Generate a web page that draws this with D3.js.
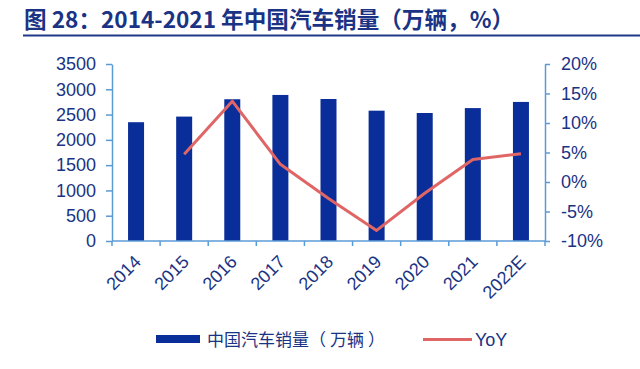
<!DOCTYPE html>
<html>
<head>
<meta charset="utf-8">
<script src="https://cdn.jsdelivr.net/npm/d3@7"></script>
<style>
  body { margin: 0; background: #fff; }
  svg { display: block; }
</style>
</head>
<body>
<div id="chart"></div>
<script>
// data
const years = ["2014", "2015", "2016", "2017", "2018", "2019", "2020", "2021", "2022E"];
const sales = [2349, 2460, 2803, 2888, 2808, 2577, 2531, 2628, 2750];   // 万辆
const yoy = [null, 4.7, 13.7, 3.0, -2.8, -8.2, -1.9, 3.8, 4.8];          // %
const leftTicks = [0, 500, 1000, 1500, 2000, 2500, 3000, 3500];
const rightTicks = [-10, -5, 0, 5, 10, 15, 20];

const W = 640, H = 369;
const navy = "#1a3384";
const axisColor = "#5b9bd5";
const barColor = "#0a2e99";
const lineColor = "#e06666";
const numFont = "'Liberation Sans', Arial, sans-serif";
const cjkFont = "'Noto Sans CJK SC', 'Noto Sans', sans-serif";

const svg = d3.select("#chart")
    .append("svg")
    .attr("width", W)
    .attr("height", H);

// title + rule
svg.append("text")
    .attr("x", 24)
    .attr("y", 28)
    .attr("fill", navy)
    .attr("font-family", cjkFont)
    .attr("font-weight", "bold")
    .attr("font-size", 22.6)
    .text("图 28：2014-2021 年中国汽车销量（万辆，%）");

svg.append("line")
    .attr("x1", 23).attr("x2", 640)
    .attr("y1", 35.5).attr("y2", 35.5)
    .attr("stroke", "#1f3a8a")
    .attr("stroke-width", 2);

const pL = 112, pR = 545, pT = 64, pB = 241;

const x = d3.scaleBand().domain(years).range([pL, pR]).padding(0);
const yL = d3.scaleLinear().domain([0, 3500]).range([pB, pT]);
const yR = d3.scaleLinear().domain([-10, 20]).range([pB, pT]);

// bars
svg.append("g")
    .selectAll("rect")
    .data(years.map((y, i) => ({year: y, v: sales[i]})))
    .join("rect")
    .attr("x", d => x(d.year) + x.bandwidth() / 2 - 8)
    .attr("width", 16)
    .attr("y", d => yL(d.v))
    .attr("height", d => yL(0) - yL(d.v))
    .attr("fill", barColor);

// YoY line
const line = d3.line()
    .defined(d => d.v !== null)
    .x(d => x(d.year) + x.bandwidth() / 2)
    .y(d => yR(d.v));

svg.append("path")
    .datum(years.map((y, i) => ({year: y, v: yoy[i]})))
    .attr("d", line)
    .attr("fill", "none")
    .attr("stroke", lineColor)
    .attr("stroke-width", 3)
    .attr("stroke-linejoin", "round");

function styleAxis(g) {
    g.selectAll(".domain").attr("stroke", axisColor).attr("stroke-width", 1.5);
    g.selectAll(".tick line").attr("stroke", axisColor).attr("stroke-width", 1.5);
    g.selectAll("text")
        .attr("fill", navy)
        .attr("font-family", numFont)
        .attr("font-size", 18);
}

// left axis
svg.append("g")
    .attr("transform", `translate(${pL},0)`)
    .call(d3.axisLeft(yL).tickValues(leftTicks).tickSize(6).tickSizeOuter(0).tickPadding(10)
        .tickFormat(d3.format("d")))
    .call(styleAxis);

// right axis
svg.append("g")
    .attr("transform", `translate(${pR},0)`)
    .call(d3.axisRight(yR).tickValues(rightTicks).tickSize(5).tickSizeOuter(0).tickPadding(11)
        .tickFormat(d => d + "%"))
    .call(styleAxis);

// bottom axis: ticks at category boundaries
const xAxis = svg.append("g")
    .attr("transform", `translate(0,${pB})`);
xAxis.append("line")
    .attr("x1", pL).attr("x2", pR)
    .attr("stroke", axisColor).attr("stroke-width", 1.5);
xAxis.selectAll("line.tk")
    .data(years.concat(["end"]))
    .join("line")
    .attr("class", "tk")
    .attr("x1", (d, i) => pL + i * x.bandwidth())
    .attr("x2", (d, i) => pL + i * x.bandwidth())
    .attr("y1", 0).attr("y2", 5)
    .attr("stroke", axisColor).attr("stroke-width", 1.5);
xAxis.selectAll("text")
    .data(years)
    .join("text")
    .attr("transform", d => `translate(${x(d) + x.bandwidth() / 2 - 3},${13}) rotate(-45)`)
    .attr("text-anchor", "end")
    .attr("dy", "0.7em")
    .attr("fill", navy)
    .attr("font-family", numFont)
    .attr("font-size", 18)
    .text(d => d);

// legend
const lg = svg.append("g");
lg.append("rect")
    .attr("x", 156).attr("y", 335)
    .attr("width", 44).attr("height", 8)
    .attr("fill", barColor);
const lt = lg.append("text")
    .attr("x", 207).attr("y", 346)
    .attr("fill", navy)
    .attr("font-family", cjkFont)
    .attr("font-size", 17);
lt.append("tspan").text("中国汽车销量（");
lt.append("tspan").attr("dx", 4).text("万辆");
lt.append("tspan").attr("dx", 4).text("）");
lg.append("line")
    .attr("x1", 423).attr("x2", 472)
    .attr("y1", 339.5).attr("y2", 339.5)
    .attr("stroke", lineColor)
    .attr("stroke-width", 3);
lg.append("text")
    .attr("x", 475).attr("y", 346)
    .attr("fill", navy)
    .attr("font-family", numFont)
    .attr("font-size", 18)
    .text("YoY");
</script>
</body>
</html>
